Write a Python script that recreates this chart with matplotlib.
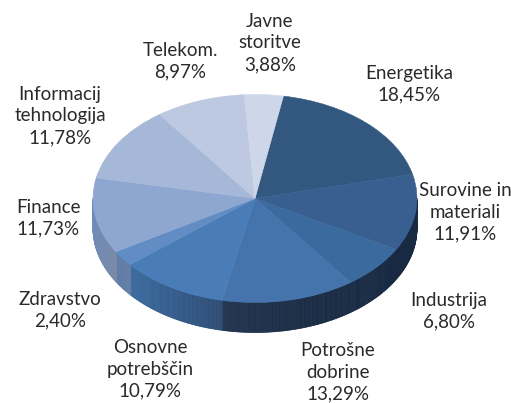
import matplotlib
matplotlib.use('Agg')
import matplotlib.pyplot as plt
from matplotlib.colors import to_rgb
import numpy as np

labels = ['Energetika\n18,45%', 'Surovine in\nmateriali\n11,91%', 'Industrija\n6,80%',
          'Potrošne\ndobrine\n13,29%', 'Osnovne\npotrebščin\n10,79%', 'Zdravstvo\n2,40%',
          'Finance\n11,73%', 'Informacij\ntehnologija\n11,78%', 'Telekom.\n8,97%',
          'Javne\nstoritve\n3,88%']
values = [18.45, 11.91, 6.80, 13.29, 10.79, 2.40, 11.73, 11.78, 8.97, 3.88]
colors = ['#335880', '#395f91', '#3b6a9e', '#4574ad', '#4a7db8', '#628dc4',
          '#8ea7d0', '#a6b8d8', '#bcc9e1', '#cdd7e9']
# pixel centre of each label block
label_px = [(409, 84), (465, 212), (449, 311), (338, 372), (150, 369), (60, 310),
            (48, 218), (60, 116), (180, 61), (270, 43)]
# side wall colours along the rim, left to right (pixel x, colour)
side_x = [93, 117, 118, 131, 132, 222, 224, 300, 417]
side_c = ['#6f8cb8', '#7a8aa6', '#5f7da8', '#667fa5', '#3a6a9f', '#2e4d75', '#22344f',
          '#1b2c46', '#172a42']

W, H = 511, 403
cx, cy, rx, ry, depth = 255, 198.5, 162, 104, 30
start = 90 - 10.1

fig = plt.figure(figsize=(W / 100, H / 100), dpi=100)
ax = fig.add_axes([0, 0, 1, 1])

# side wall first, then the top on it
sw = [to_rgb(c) for c in side_c]
t = np.radians(np.linspace(180, 360, 361))
for a, b in zip(t[:-1], t[1:]):
    xm = cx + rx * np.cos((a + b) / 2)
    c = [np.interp(xm, side_x, [s[i] for s in sw]) for i in range(3)]
    xs = [np.cos(a), np.cos(b), np.cos(b), np.cos(a)]
    ys = [np.sin(a), np.sin(b), np.sin(b) - depth / ry, np.sin(a) - depth / ry]
    ax.fill(xs, ys, facecolor=c, edgecolor=c, lw=0.5)

wedges, _ = ax.pie(values, colors=colors, startangle=start, counterclock=False, radius=1)
for w, c in zip(wedges, colors):
    w.set_edgecolor(c)
    w.set_linewidth(0.4)
ax.set_aspect('auto')
ax.set_xlim(-cx / rx, (W - cx) / rx)
ax.set_ylim((cy - H) / ry, cy / ry)
ax.axis('off')

for lab, (px, py) in zip(labels, label_px):
    ax.text((px - cx) / rx, (cy - py) / ry, lab, ha='center', va='center', fontsize=13.5,
            family='Lato', color='#2a2a2a', linespacing=1.32)

fig.savefig('out.png', dpi=100)
